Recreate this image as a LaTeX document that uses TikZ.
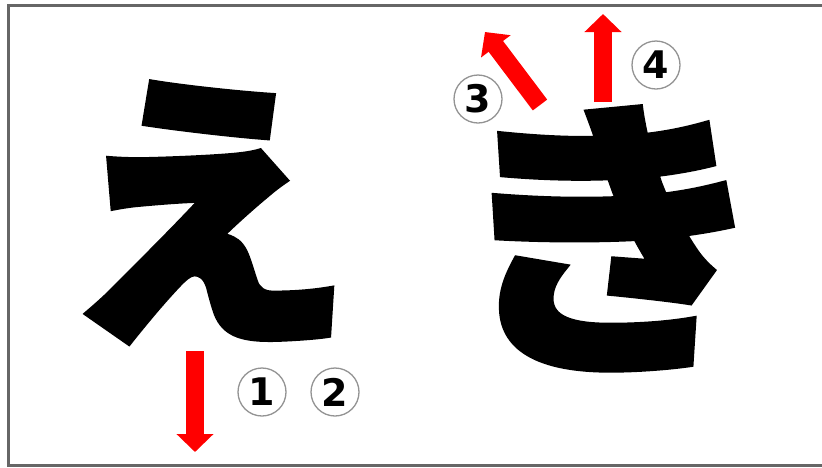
\documentclass[tikz,border=0pt]{standalone}
\usepackage{fontspec}
\newfontfamily\cjk[BoldFeatures={FakeBold=2}]{Noto Sans CJK JP}
\newfontfamily\digitfont{DejaVu Sans}
\usetikzlibrary{arrows.meta}
\tikzset{
  kana/.style={inner sep=0pt, font=\cjk\bfseries\fontsize{292}{292}\selectfont},
  redarrow/.style={draw=red, line width=18pt, -{Triangle[width=36pt,length=18pt]}, fill=red},
  circnum/.style={circle, draw=gray!85, line width=1.3pt, minimum size=48pt, inner sep=0pt,
     font=\digitfont\bfseries\fontsize{38}{38}\selectfont},
}
\begin{document}
\begin{tikzpicture}[x=1pt,y=-1pt]
\useasboundingbox (0,0) rectangle (822,467);
\fill[white] (0,0) rectangle (822,467);
\draw[draw=gray!80!black, line width=3pt] (830,5.5) -- (8.5,5.5) -- (8.5,465.5) -- (830,465.5);
\node[kana] (e) at (206.5,212.5) {え};
\node[kana, xscale=1.1] (ki) at (611,238.5) {き};
\coordinate (a1s) at (195,351);
\coordinate (a1e) at (195,452);
\coordinate (a3s) at (540,105);
\coordinate (a3e) at (485,32);
\coordinate (a4s) at (603,102);
\coordinate (a4e) at (603,14);
\draw[redarrow] (a1s) -- (a1e);
\draw[redarrow] (a3s) -- (a3e);
\draw[redarrow] (a4s) -- (a4e);
\node[circnum] (n1) at (262,392) {1};
\node[circnum] (n2) at (335,392) {2};
\node[circnum] (n3) at (478,99) {3};
\node[circnum] (n4) at (656,65) {4};
\end{tikzpicture}
\end{document}
